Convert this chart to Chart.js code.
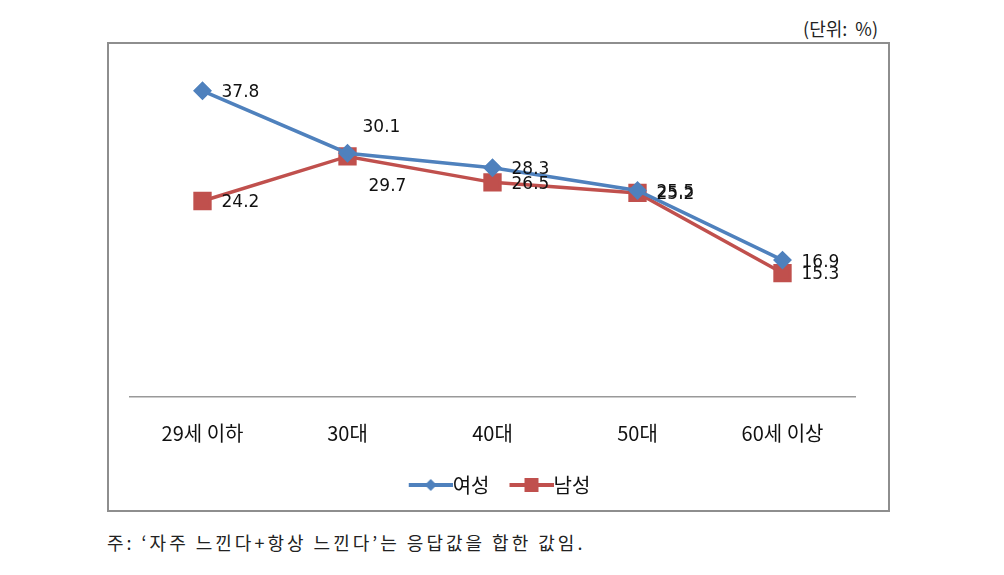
<!DOCTYPE html>
<html>
<head>
<meta charset="utf-8">
<script src="https://cdn.jsdelivr.net/npm/chart.js@4"></script>
<style>
  body { margin: 0; background: #fff; width: 1004px; height: 575px; position: relative; font-family: "Noto Sans CJK KR", sans-serif; }
  #unit { position: absolute; right: 126px; top: 15px; font-size: 18px; color: #222; white-space: pre; }
  #box { position: absolute; left: 107px; top: 42px; width: 779px; height: 466px; border: 2px solid #8e8e8e; }
  #note { position: absolute; left: 107px; top: 529px; font-size: 18px; letter-spacing: 3px; color: #222; }
</style>
</head>
<body>
<div id="unit">(단위:  %)</div>
<div id="box"><canvas id="grafico" width="779" height="466"></canvas></div>
<div id="note">주: ‘자주 느낀다+항상 느낀다’는 응답값을 합한 값임.</div>
<script>
const categorias = ["29세 이하", "30대", "40대", "50대", "60세 이상"];
const serieNombres = ["여성", "남성"];
const mujeres = [37.8, 30.1, 28.3, 25.5, 16.9];
const hombres = [24.2, 29.7, 26.5, 25.2, 15.3];

const azul = '#4f81bd';
const rojo = '#c0504d';

// icono de leyenda: linea + marcador (margen transparente a la izquierda)
function iconoLeyenda(color, estilo) {
  const m = 24;
  const c = document.createElement('canvas');
  c.width = 44 + m; c.height = 16;
  const g = c.getContext('2d');
  g.strokeStyle = color; g.lineWidth = 4;
  g.beginPath(); g.moveTo(m, 8); g.lineTo(m + 44, 8); g.stroke();
  g.fillStyle = color;
  g.beginPath();
  if (estilo === 'diamante') {
    g.moveTo(m + 22, 2); g.lineTo(m + 28, 8); g.lineTo(m + 22, 14); g.lineTo(m + 16, 8);
  } else {
    g.rect(m + 15, 1, 14, 14);
  }
  g.closePath(); g.fill();
  return c;
}
const iconos = [iconoLeyenda(azul, 'diamante'), iconoLeyenda(rojo, 'cuadro')];

// etiquetas de valores
const etiquetasPlugin = {
  id: 'etiquetas',
  afterDatasetsDraw(chart) {
    const ctx = chart.ctx;
    ctx.save();
    ctx.font = '17px "DejaVu Sans"';
    ctx.fillStyle = '#111';
    ctx.textBaseline = 'middle';
    ctx.textAlign = 'left';
    chart.data.datasets.forEach((ds, di) => {
      const meta = chart.getDatasetMeta(di);
      meta.data.forEach((pt, i) => {
        let dx = 19, dy = 2;
        if (i === 1) {
          if (di === 0) { dx = 15; dy = -26; } else { dx = 21; dy = 30; }
        }
        ctx.fillText(ds.data[i].toFixed(1), pt.x + dx, pt.y + dy);
      });
    });
    ctx.restore();
  }
};

new Chart(document.getElementById('grafico'), {
  type: 'line',
  data: {
    labels: categorias,
    datasets: [
      {
        label: serieNombres[0], data: mujeres,
        borderColor: azul, backgroundColor: azul, borderWidth: 3.5,
        pointStyle: 'rectRot', pointRadius: 7, pointHoverRadius: 7, tension: 0
      },
      {
        label: serieNombres[1], data: hombres,
        borderColor: rojo, backgroundColor: rojo, borderWidth: 3.5,
        pointStyle: 'rect', pointRadius: 10.5, pointHoverRadius: 10.5, tension: 0
      }
    ]
  },
  options: {
    responsive: false,
    animation: false,
    layout: { padding: { left: 21, right: 33, top: 29, bottom: 5 } },
    scales: {
      x: {
        offset: true,
        grid: { display: false, drawTicks: false },
        border: { display: true, color: '#999', width: 1.5 },
        ticks: { color: '#111', font: { family: '"Noto Sans CJK KR"', size: 20 }, padding: 24 }
      },
      y: { display: false, min: 0, max: 40 }
    },
    plugins: {
      legend: {
        position: 'bottom',
        labels: {
          usePointStyle: true,
          pointStyleWidth: 48,
          color: '#111',
          font: { family: '"Noto Sans CJK KR"', size: 20 },
          padding: 6,
          generateLabels: chart => chart.data.datasets.map((ds, i) => ({
            text: ds.label, pointStyle: iconos[i], datasetIndex: i,
            fontColor: '#111', lineWidth: 0, hidden: false
          }))
        }
      },
      tooltip: { enabled: false }
    }
  },
  plugins: [etiquetasPlugin]
});
</script>
</body>
</html>
